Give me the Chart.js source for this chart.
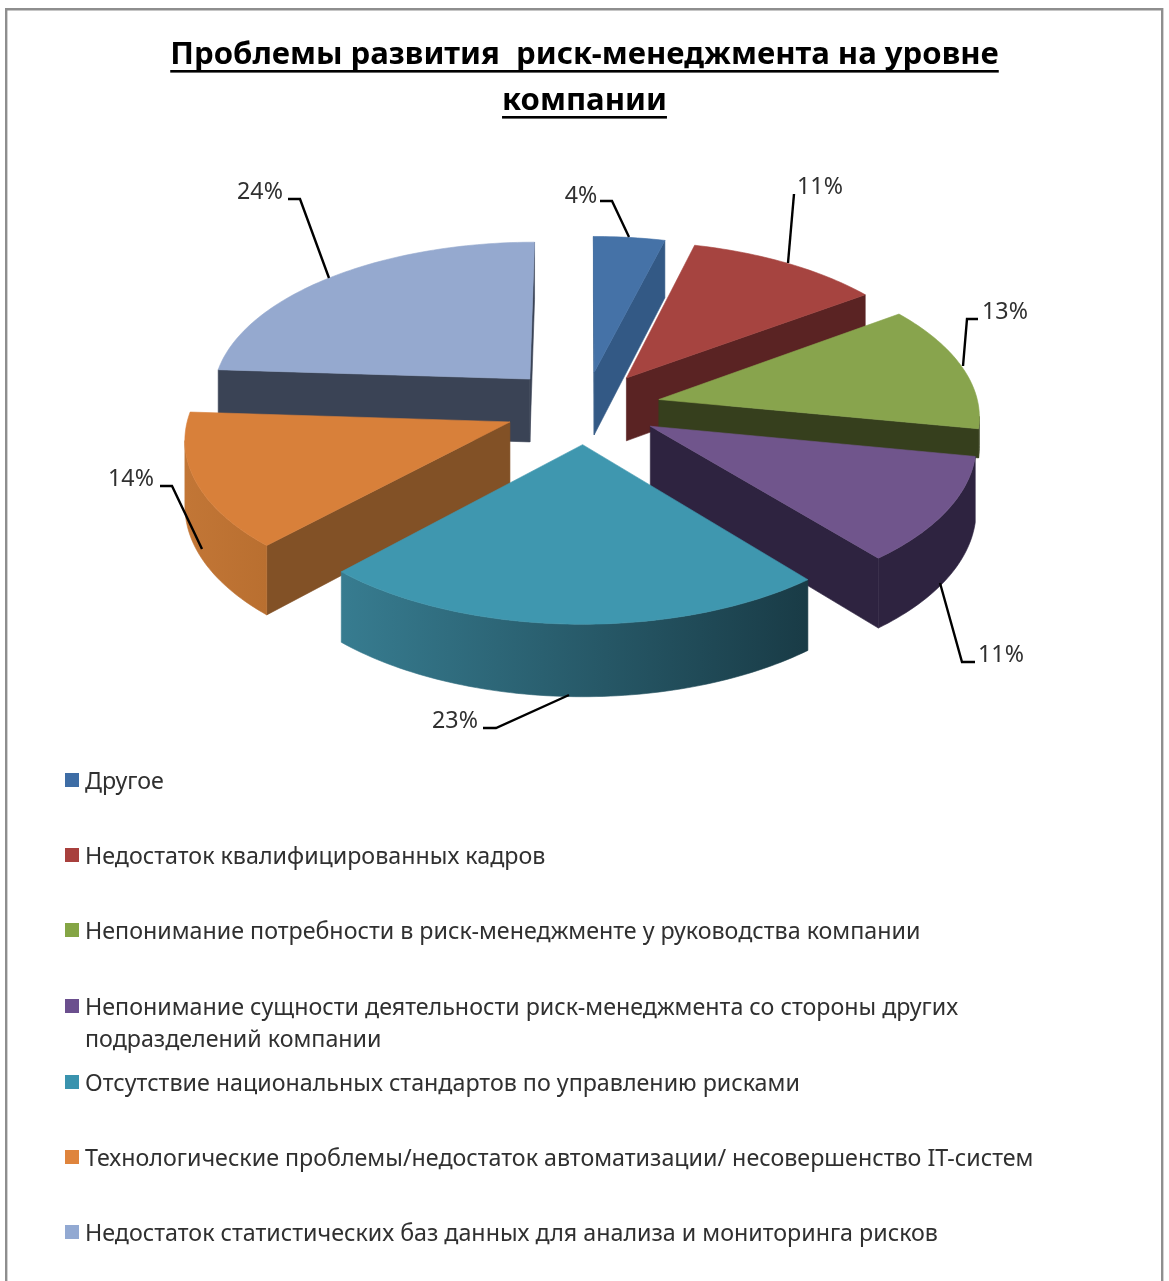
<!DOCTYPE html>
<html lang="ru"><head><meta charset="utf-8">
<style>html,body{margin:0;padding:0;background:#fff}canvas{display:block;position:absolute;left:0;top:0;filter:blur(0.4px)}</style>
<script src="https://cdn.jsdelivr.net/npm/chart.js@4"></script>
</head><body>
<canvas id="c" width="1169" height="1281"></canvas>
<script>
const categories = [
  "Другое",
  "Недостаток квалифицированных кадров",
  "Непонимание потребности в риск-менеджменте у руководства компании",
  "Непонимание сущности деятельности риск-менеджмента со стороны других подразделений компании",
  "Отсутствие национальных стандартов по управлению рисками",
  "Технологические проблемы/недостаток автоматизации/ несовершенство IT-систем",
  "Недостаток статистических баз данных для анализа и мониторинга рисков"
];
const values = [4, 11, 13, 11, 23, 14, 24];
const titleLines = ["Проблемы развития  риск-менеджмента на уровне", "компании"];
const legendLines = [
  ["Другое"],
  ["Недостаток квалифицированных кадров"],
  ["Непонимание потребности в риск-менеджменте у руководства компании"],
  ["Непонимание сущности деятельности риск-менеджмента со стороны других", "подразделений компании"],
  ["Отсутствие национальных стандартов по управлению рисками"],
  ["Технологические проблемы/недостаток автоматизации/ несовершенство IT-систем"],
  ["Недостаток статистических баз данных для анализа и мониторинга рисков"]
];
const explode     = [75,75,76,75,75,80,82];
const wallDepth   = [1,1,0.45,1,1,1,1];
const topColors   = ["#4572A7","#A64440","#88A44D","#70558C","#3F97AF","#D8803A","#95A9CF"];
const wallColors  = ["#335985","#5A2323","#363F1D","#2E2340","#1F4A57","#825126","#3A4355"];
const outerLeft   = ["#335985","#5A2323","#363F1D","#2E2340","#377C90","#C27636","#3A4355"];
const outerRight  = ["#335985","#5A2323","#363F1D","#2E2340","#193B46","#B96F30","#3A4355"];
const legendColors= ["#3E6DA5","#A8403D","#84A545","#6B4F8E","#3A93AE","#DF843C","#92A9D2"];

// layout of the labels: text centre, then the leader polyline
const labelLayout = [
  {t:[581,196], l:[[600,201],[612,201],[629,237]]},
  {t:[820,187], l:[[794,194],[788,263]]},
  {t:[1005,312],l:[[978,319],[967,319],[963,366]]},
  {t:[1001,655],l:[[975,662],[962,662],[940,583]]},
  {t:[455,721], l:[[483,728],[496,728],[569,695]]},
  {t:[131,479], l:[[160,486],[172,486],[202,549]]},
  {t:[260,192], l:[[288,199],[300,199],[329,278]]}
];
const legendY = [782,857,932,1008,1084,1159,1234];
const FONT = '"Noto Sans","Open Sans",sans-serif';
const P = {cx:585, cy:407.5, rx:320, ry:155, k:0.095, depth:64};

function projector(el,depthScale){
  const mid=(el.startAngle+el.endAngle)/2, e=el.options.offset/P.rx;
  return (a,r,dz)=>{
    const m=r*Math.cos(a)+e*Math.cos(mid), v=r*Math.sin(a)+e*Math.sin(mid), s=1/(1-P.k*v);
    return [P.cx+P.rx*m*s, P.cy+P.ry*v*s+dz*depthScale*P.depth*s];
  };
}
function poly(ctx,pts,fill){
  ctx.beginPath(); pts.forEach((p,i)=>i?ctx.lineTo(p[0],p[1]):ctx.moveTo(p[0],p[1])); ctx.closePath();
  ctx.fillStyle=fill; ctx.fill(); ctx.strokeStyle=fill; ctx.lineWidth=0.6; ctx.stroke();
}
const pie3d = {
  id:'pie3d',
  beforeDatasetsDraw(chart){
    const ctx=chart.ctx, arcs=chart.getDatasetMeta(0).data;
    const order=arcs.map((el,i)=>i).sort((a,b)=>{
      const f=el=>Math.sin((el.startAngle+el.endAngle)/2);
      return f(arcs[a])-f(arcs[b]);
    });
    ctx.save();
    order.forEach(i=>{
      const el=arcs[i], pr=projector(el,wallDepth[i]), a0=el.startAngle, a1=el.endAngle;
      const n=Math.max(8,Math.ceil((a1-a0)/0.02));
      const rim=[]; for(let j=0;j<=n;j++) rim.push(a0+(a1-a0)*j/n);
      const topRim=rim.map(a=>pr(a,1,0)), botRim=rim.map(a=>pr(a,1,1));
      const apexT=pr(0,0,0), apexB=pr(0,0,1);
      // only faces that look towards the viewer (edge runs right to left on screen)
      if(topRim[0][0]<apexT[0]) poly(ctx,[apexT,topRim[0],botRim[0],apexB],wallColors[i]);
      if(apexT[0]<topRim[n][0]) poly(ctx,[topRim[n],apexT,apexB,botRim[n]],wallColors[i]);
      const vis=[]; for(let j=0;j<n;j++) if(topRim[j+1][0]<topRim[j][0]) vis.push(j);
      if(vis.length){
        const from=vis[0], to=vis[vis.length-1]+1;
        const T=topRim.slice(from,to+1), B=botRim.slice(from,to+1);
        const g=ctx.createLinearGradient(T[T.length-1][0],0,T[0][0],0);
        g.addColorStop(0,outerLeft[i]); g.addColorStop(1,outerRight[i]);
        poly(ctx,T.concat(B.reverse()),g);
      }
      poly(ctx,[apexT].concat(topRim),el.options.backgroundColor);
    });
    ctx.restore();
    return false;
  },
  afterDraw(chart){
    const ctx=chart.ctx;
    ctx.save();
    // frame
    ctx.strokeStyle='#8E8E8E'; ctx.lineWidth=2.4;
    ctx.beginPath(); ctx.moveTo(6.2,1290); ctx.lineTo(6.2,9.2); ctx.lineTo(1162.2,9.2); ctx.lineTo(1162.2,1290); ctx.stroke();
    // title underlines
    ctx.font='bold '+chart.options.plugins.title.font.size+'px '+FONT;
    ctx.fillStyle='#000';
    [70,116].forEach((y,i)=>{const w=ctx.measureText(titleLines[i]).width; ctx.fillRect(584.5-w/2,y,w,2.6);});
    // percent labels and leaders
    ctx.font='23.2px '+FONT; ctx.textAlign='center'; ctx.textBaseline='middle';
    values.forEach((v,i)=>{
      const L=labelLayout[i];
      ctx.fillStyle='#303030'; ctx.fillText(v+'%',L.t[0],L.t[1]);
      ctx.strokeStyle='#000'; ctx.lineWidth=2.4; ctx.beginPath();
      L.l.forEach((p,j)=>j?ctx.lineTo(p[0],p[1]):ctx.moveTo(p[0],p[1])); ctx.stroke();
    });
    // legend
    ctx.textAlign='left'; ctx.font='23.25px '+FONT;
    legendLines.forEach((lines,i)=>{
      ctx.fillStyle=legendColors[i]; ctx.fillRect(65,legendY[i]-9,14,14);
      ctx.fillStyle='#303030';
      lines.forEach((t,j)=>ctx.fillText(t,85,legendY[i]+j*32));
    });
    ctx.restore();
  }
};
new Chart(document.getElementById('c'),{
  type:'pie',
  data:{labels:categories,datasets:[{data:values,backgroundColor:topColors,offset:explode,borderWidth:0}]},
  options:{
    responsive:false,devicePixelRatio:1,animation:false,
    plugins:{
      legend:{display:false},tooltip:{enabled:false},
      title:{display:true,text:titleLines,color:'#000',align:'center',
        font:{family:FONT,size:31.1,weight:'bold',lineHeight:1.48},padding:{top:32,bottom:10}}
    }
  },
  plugins:[pie3d]
});
</script>
</body></html>
